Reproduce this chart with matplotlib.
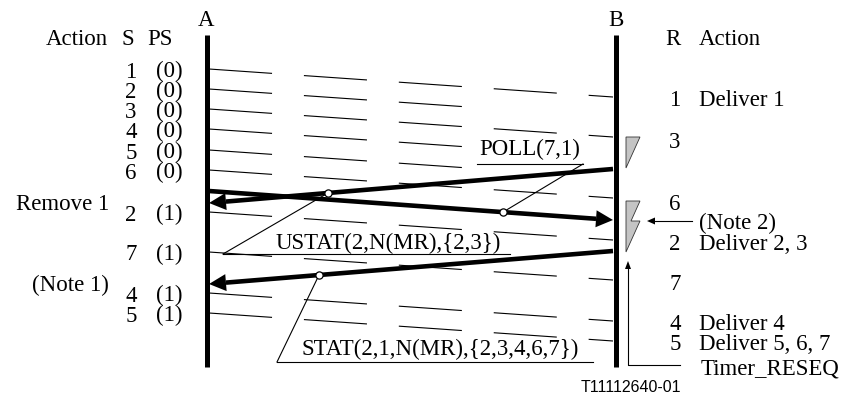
import numpy as np
import matplotlib
matplotlib.use('Agg')
import matplotlib.pyplot as plt
from matplotlib.patches import Polygon

plt.rcParams['font.family'] = ['Liberation Serif', 'DejaVu Serif']
plt.rcParams['lines.scale_dashes'] = False

# frames sent by A (left column)
seq_s = ['1', '2', '3', '4', '5', '6', '2', '7', '4', '5']
seq_ps = ['(0)', '(0)', '(0)', '(0)', '(0)', '(0)', '(1)', '(1)', '(1)', '(1)']
send_y = [69, 89, 109, 129, 150, 170, 212, 252, 293, 313]
lost = [False, True, False, True, True, False, False, False, False, False]
delay = 28

# receiver B (right column)
recv_r = ['1', '3', '6', '2', '7', '4', '5']
recv_action = ['Deliver 1', '', '', 'Deliver 2, 3', '', 'Deliver 4', 'Deliver 5, 6, 7']
recv_y = [98, 140, 202, 242, 283, 323, 343]

# left notes
left_notes = ['Remove 1', '(Note 1)']
left_notes_y = [202, 284]

# supervisory frames (start -> end)
msg_names = ['POLL(7,1)', 'USTAT(2,N(MR),{2,3})', 'STAT(2,1,N(MR),{2,3,4,6,7})']
msg_start = [(209, 191), (613, 169), (613, 251)]
msg_end = [(613, 220), (209, 203), (209, 284)]
msg_circle_x = [503, 328, 319]

xa, xb = 206.5, 616
x_in_a, x_in_b = 209, 613
top, bottom = 35, 367
BASE = 7.5  # cap-centre to baseline
FS = 16.5


def head(x0, y0, x1, y1, L, W):
    d = np.array([x1 - x0, y1 - y0], float)
    d /= np.hypot(*d)
    n = np.array([-d[1], d[0]])
    tip = np.array([x1, y1], float)
    base = tip - L * d
    return np.array([tip, base + W * n, base - W * n]), base


fig = plt.figure(figsize=(8.47, 3.94), dpi=100)
ax = fig.add_axes([0, 0, 1, 1])
ax.set_xlim(0, 847)
ax.set_ylim(394, 0)
ax.axis('off')

# lifelines
for x, name in [(xa, 'A'), (xb, 'B')]:
    ax.plot([x, x], [top, bottom], color='black', lw=3.6, solid_capstyle='butt', zorder=3)
    ax.text(x, 18 + BASE, name, ha='center', va='baseline', fontsize=FS)

# I-frames, dashed
for y, is_lost in zip(send_y, lost):
    x1 = 467 if is_lost else x_in_b
    y1 = y + delay * (x1 - x_in_a) / (x_in_b - x_in_a)
    ax.plot([x_in_a, x1], [y, y1], color='black', lw=0.8,
            dashes=(45.5, 23), dash_capstyle='butt', zorder=2)

# headers
ax.text(77, 37 + BASE, 'Action', ha='center', va='baseline', fontsize=FS)
ax.text(128, 37 + BASE, 'S', ha='center', va='baseline', fontsize=FS)
ax.text(160, 37 + BASE, 'PS', ha='center', va='baseline', fontsize=FS)
ax.text(673, 37 + BASE, 'R', ha='center', va='baseline', fontsize=FS)
ax.text(699, 37 + BASE, 'Action', ha='left', va='baseline', fontsize=FS)

for s, ps, y in zip(seq_s, seq_ps, send_y):
    ax.text(131, y + 1 + BASE, s, ha='center', va='baseline', fontsize=FS)
    ax.text(169, y + 1 + BASE, ps, ha='center', va='baseline', fontsize=FS)

for txt, y in zip(left_notes, left_notes_y):
    ax.text(109, y + BASE, txt, ha='right', va='baseline', fontsize=FS)

for r, act, y in zip(recv_r, recv_action, recv_y):
    ax.text(675, y + BASE, r, ha='center', va='baseline', fontsize=FS)
    if act:
        ax.text(699, y + BASE, act, ha='left', va='baseline', fontsize=FS)

ax.text(699, 222 + BASE, '(Note 2)', ha='left', va='baseline', fontsize=FS)
ax.text(701, 367 + BASE, 'Timer_RESEQ', ha='left', va='baseline', fontsize=FS)

# supervisory frames, thick arrows
for (x0, y0), (x1, y1) in zip(msg_start, msg_end):
    pts, base = head(x0, y0, x1, y1, 17, 8.5)
    ax.plot([x0, base[0]], [y0, base[1]], color='black', lw=3.3,
            solid_capstyle='butt', zorder=4)
    ax.add_patch(Polygon(pts, closed=True, color='black', lw=0, zorder=4))

circles = []
for (x0, y0), (x1, y1), cx in zip(msg_start, msg_end, msg_circle_x):
    cy = y0 + (y1 - y0) * (cx - x0) / (x1 - x0)
    circles.append((cx, cy))

# labels with underline and leader line
label_pos = [(530, 148), (388, 242), (440, 348)]
underline = [(477, 583, 164), (223, 510, 254), (277, 593, 362)]
leader_from = ['right', 'left', 'left']
for name, (tx, ty), (ux0, ux1, uy), side, (cx, cy) in zip(
        msg_names, label_pos, underline, leader_from, circles):
    ax.text(tx, ty + BASE, name, ha='center', va='baseline', fontsize=FS, zorder=6)
    ax.plot([ux0, ux1], [uy, uy], color='black', lw=0.8, zorder=5)
    lx = ux1 if side == 'right' else ux0
    ax.plot([lx, cx], [uy, cy], color='black', lw=0.8, zorder=5)
    ax.plot(cx, cy, 'o', ms=5.2, mfc='white', mec='black', mew=0.9, zorder=7)

# resequencing gaps at B
ax.add_patch(Polygon([(626, 137), (640, 137), (626, 168)], closed=True,
                     fc='#c4c4c4', ec='#333333', lw=0.6, zorder=3))
ax.add_patch(Polygon([(626, 201), (640, 201), (631, 221), (640, 221), (626, 252)],
                     closed=True, fc='#c4c4c4', ec='#333333', lw=0.6, zorder=3))

# note 2 arrow
ax.plot([692, 654], [221, 221], color='black', lw=0.8)
pts, _ = head(692, 221, 647, 221, 8, 3.5)
ax.add_patch(Polygon(pts, closed=True, color='black', lw=0))

# Timer_RESEQ arrow
ax.plot([680, 628, 628], [365, 365, 268], color='black', lw=0.8)
pts, _ = head(628, 365, 628, 261, 8, 3)
ax.add_patch(Polygon(pts, closed=True, color='black', lw=0))

ax.text(631, 392, 'T11112640-01', ha='center', va='baseline', fontsize=11.5,
        family='Liberation Sans')

fig.savefig('out.png', dpi=100)
